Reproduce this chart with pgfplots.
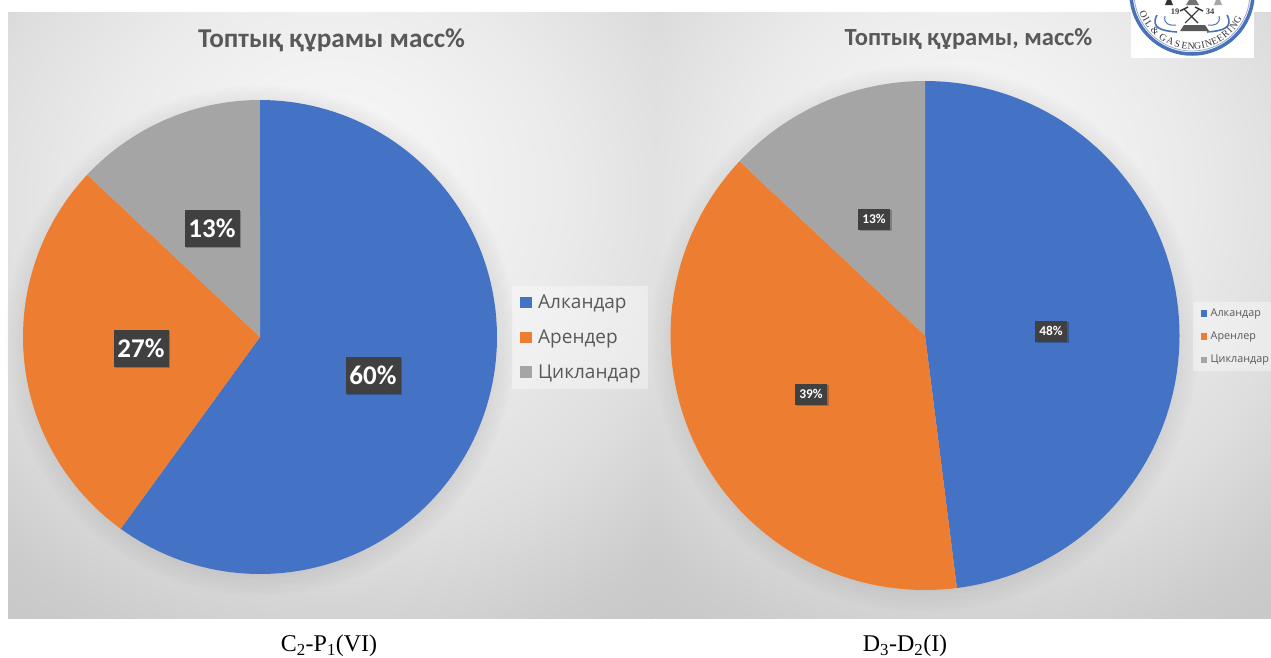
\documentclass[border=0pt]{standalone}
\usepackage{fontspec}
\setmainfont{Carlito}
\newfontfamily\legendfont{Open Sans}
\newfontfamily\serifcap{Liberation Serif}
\usepackage{pgfplots}
\pgfplotsset{compat=1.18}
\usetikzlibrary{fadings,shadows}

\definecolor{pieblue}{HTML}{4472C4}
\definecolor{pieorange}{HTML}{ED7D31}
\definecolor{piegray}{HTML}{A5A5A5}
\definecolor{ink}{HTML}{595959}
\definecolor{labelbox}{HTML}{404040}
\definecolor{sealblue}{HTML}{4A72B8}

% Path bounding boxes map onto the inner 50bp of the shading square
\pgfdeclareradialshading{panelglow}{\pgfpoint{0bp}{12.5bp}}{%
  color(0bp)=(white!97!black);
  color(9bp)=(white!95!black);
  color(18bp)=(white!92!black);
  color(28bp)=(white!87!black);
  color(37bp)=(white!80!black);
  color(45bp)=(white!77!black);
  color(100bp)=(white!77!black)}

% One wedge: centre x, centre y, radius, start and end in cumulative percent, colour
\newcommand{\slice}[6]{%
  \addplot[fill=#6,draw=none,domain=#4*3.6:#5*3.6,samples=120,mark=none]
    ({#1+#3*sin(x)},{#2-#3*cos(x)}) -- (axis cs:#1,#2) -- cycle;
}
% Value tag on a wedge
\newcommand{\valuetag}[6]{%
  \node[fill=labelbox,text=white,minimum width=#3pt,minimum height=#4pt,inner sep=0pt,
        font=\fontsize{#5}{#5}\selectfont\bfseries,
        drop shadow={shadow xshift=1.5pt,shadow yshift=-1.5pt,opacity=.22,fill=black}]
    at (axis cs:#1,#2) {#6};
}
\newcommand{\pieshadow}[3]{%
  \fill[black,opacity=.13,path fading=circle with fuzzy edge 15 percent]
    (axis cs:#1,#2) circle[radius=#3pt];
}
% One letter of the seal's ring text
\newcommand{\sealletter}[2]{%
  \node[rotate=#1-270,text=ink!60!black,inner sep=0pt,
        font=\serifcap\fontsize{9.8}{9.8}\selectfont]
    at ([shift={(#1:53pt)}]seal) {#2};
}

\pgfplotsset{
  canvas/.style={
    at={(0,0)},anchor=south west,scale only axis,
    width=1271pt,height=657pt,
    xmin=0,xmax=1271,ymin=0,ymax=657,y dir=reverse,
    axis lines=none,clip=true,
    legend cell align=left,
  },
  bigswatch/.style={legend image code/.code={
    \fill[##1,draw=none,fill opacity=1] (0pt,-5.7pt) rectangle (11.4pt,5.7pt);
    \path (-3pt,0pt) (16pt,0pt);}},
  smallswatch/.style={legend image code/.code={
    \fill[##1,draw=none,fill opacity=1] (0pt,-3.2pt) rectangle (6.4pt,3.2pt);
    \path (8pt,0pt);}},
}

\begin{document}
\begin{tikzpicture}
\useasboundingbox (0,0) rectangle (1271pt,657pt);

% Left pie, C2-P1 (VI)
\begin{axis}[canvas,bigswatch,
  legend style={at={(axis cs:512,286)},anchor=north west,draw=none,
    fill=white,fill opacity=.38,text opacity=1,
    font=\legendfont\fontsize{19}{19}\selectfont,text=ink,
    inner xsep=5pt,inner ysep=7pt,row sep=15.5pt}]
  \shade[shading=panelglow] (axis cs:8,12) rectangle (axis cs:655.5,618);
  \pieshadow{260}{340}{256}
  \slice{260}{337}{237}{0}{60}{pieblue}
  \addlegendentry{Алкандар}
  \slice{260}{337}{237}{60}{87}{pieorange}
  \addlegendentry{Арендер}
  \slice{260}{337}{237}{87}{100}{piegray}
  \addlegendentry{Цикландар}
  \valuetag{373}{375}{55}{37}{27}{60\%}
  \valuetag{141}{348}{55}{37}{27}{27\%}
  \valuetag{212}{228}{55}{37}{27}{13\%}
  \node[text=ink,font=\fontsize{27.2}{27.2}\selectfont\bfseries] at (axis cs:331.5,40) {Топтық құрамы масс\%};
  \node[font=\serifcap\fontsize{24}{24}\selectfont] at (axis cs:329,646) {C\textsubscript{2}-P\textsubscript{1}(VI)};
\end{axis}

% Right pie, D3-D2 (I), with the seal in the corner
\begin{axis}[canvas,smallswatch,
  legend style={at={(axis cs:1193,302)},anchor=north west,draw=none,
    fill=white,fill opacity=.38,text opacity=1,
    font=\legendfont\fontsize{10.8}{10.8}\selectfont,text=ink,
    inner xsep=7.5pt,inner ysep=4.5pt,row sep=10pt}]
  \shade[shading=panelglow] (axis cs:656,12) rectangle (axis cs:1271,618);
  \pieshadow{925}{338.5}{274}
  \slice{925}{335.5}{254.5}{0}{48}{pieblue}
  \addlegendentry{Алкандар}
  \slice{925}{335.5}{254.5}{48}{87}{pieorange}
  \addlegendentry{Аренлер}
  \slice{925}{335.5}{254.5}{87}{100}{piegray}
  \addlegendentry{Цикландар}
  \valuetag{1051}{331}{32}{21}{13.4}{48\%}
  \valuetag{811}{394}{32}{21}{13.4}{39\%}
  \valuetag{874}{219}{32}{21}{13.4}{13\%}
  \node[text=ink,font=\fontsize{24.6}{24.6}\selectfont\bfseries] at (axis cs:968.5,38.5) {Топтық құрамы, масс\%};
  \node[font=\serifcap\fontsize{24}{24}\selectfont] at (axis cs:905,646) {D\textsubscript{3}-D\textsubscript{2}(I)};

  % Seal of the school
  \fill[white] (axis cs:1131,0) rectangle (axis cs:1254,58);
  \coordinate (seal) at (axis cs:1192,-7);
  \draw[sealblue,line width=3.5pt] (seal) circle[radius=61pt];
  \draw[sealblue!60!white,line width=.8pt] (seal) circle[radius=58pt];
  \sealletter{204}{O}\sealletter{210}{I}\sealletter{215.5}{L}\sealletter{226}{\&}
  \sealletter{237}{G}\sealletter{246}{A}\sealletter{254}{S}\sealletter{262}{E}
  \sealletter{269}{N}\sealletter{276}{G}\sealletter{282}{I}\sealletter{288}{N}
  \sealletter{295}{E}\sealletter{302}{E}\sealletter{309}{R}\sealletter{315}{I}
  \sealletter{322}{N}\sealletter{329}{G}
  \draw[sealblue,line width=1.6pt] (axis cs:1157,15) .. controls (axis cs:1150,28) and (axis cs:1162,31) .. (axis cs:1177,32);
  \draw[sealblue,line width=1.6pt] (axis cs:1227,15) .. controls (axis cs:1234,28) and (axis cs:1222,31) .. (axis cs:1207,32);
  \draw[sealblue,line width=1pt] (axis cs:1165,16) .. controls (axis cs:1163,24) and (axis cs:1170,26) .. (axis cs:1176,25);
  \draw[sealblue,line width=1pt] (axis cs:1219,16) .. controls (axis cs:1221,24) and (axis cs:1214,26) .. (axis cs:1208,25);
  \node[text=black!75,font=\serifcap\bfseries\fontsize{8.5}{8.5}\selectfont] at (axis cs:1175,11.5) {19};
  \node[text=black!75,font=\serifcap\bfseries\fontsize{8.5}{8.5}\selectfont] at (axis cs:1210,11.5) {34};
  \draw[black!80,line width=1.1pt] (axis cs:1184,9) -- (axis cs:1198,23) (axis cs:1199,9) -- (axis cs:1185,23);
  \draw[black!80,line width=1.5pt] (axis cs:1180,11) -- (axis cs:1188,7) (axis cs:1203,11) -- (axis cs:1195,7);
  \fill[black!65] (axis cs:1180,31) -- (axis cs:1184,25) -- (axis cs:1205,25) -- (axis cs:1209,31) -- cycle;
  \fill[black!80] (axis cs:1165,5) -- (axis cs:1167,0) -- (axis cs:1171,0) -- (axis cs:1173,5) -- cycle;
  \fill[black!55] (axis cs:1186,5) -- (axis cs:1189,0) -- (axis cs:1196,0) -- (axis cs:1199,5) -- cycle;
  \fill[black!35] (axis cs:1214,5) -- (axis cs:1216,0) -- (axis cs:1220,0) -- (axis cs:1222,5) -- cycle;
\end{axis}
\end{tikzpicture}
\end{document}
